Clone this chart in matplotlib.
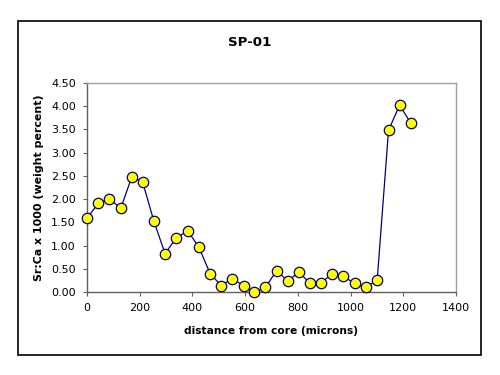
import matplotlib
matplotlib.use("Agg")
import matplotlib.pyplot as plt
from matplotlib.patches import Rectangle

plt.rcParams['font.family'] = ['DejaVu Sans']

# distance from core (microns) and Sr:Ca x 1000
distance = [0, 43, 85, 128, 170, 211, 253, 296, 338, 382, 425, 467, 509, 551, 594,
            635, 677, 719, 762, 804, 846, 887, 930, 972, 1015, 1057, 1101, 1144, 1186, 1229]
srca = [1.59, 1.91, 2.01, 1.80, 2.48, 2.37, 1.54, 0.83, 1.16, 1.32, 0.96, 0.40, 0.14, 0.29, 0.14,
        0.00, 0.10, 0.46, 0.24, 0.43, 0.19, 0.19, 0.40, 0.34, 0.19, 0.10, 0.26, 3.48, 4.02, 3.63]

xticks = [0, 200, 400, 600, 800, 1000, 1200, 1400]
yticks = [0, 0.5, 1.0, 1.5, 2.0, 2.5, 3.0, 3.5, 4.0, 4.5]

fig = plt.figure(figsize=(5, 3.75), dpi=100)
fig.patches.append(Rectangle((18/500, 1-355/375), 463/500, 334/375, transform=fig.transFigure,
                             fill=False, edgecolor='black', linewidth=1.2))

ax = fig.add_axes([0.174, 0.221, 0.738, 0.558])
ax.plot(distance, srca, color='#000080', linewidth=0.9, marker='o', markersize=7.5,
        markerfacecolor='#ffff00', markeredgecolor='#000080', markeredgewidth=0.9,
        clip_on=False, zorder=3)

ax.set_xlim(0, 1400)
ax.set_ylim(0, 4.5)
ax.set_xticks(xticks)
ax.set_yticks(yticks)
ax.set_yticklabels(['%.2f' % v for v in yticks])
for s in ax.spines.values():
    s.set_color('#a0a0a0')
    s.set_linewidth(1.0)
ax.spines['left'].set_color('#606060')
ax.spines['bottom'].set_color('#606060')
ax.tick_params(direction='out', length=3, color='#606060', labelsize=8, pad=5)

fig.text(0.5, 0.888, 'SP-01', ha='center', va='center', fontsize=9.6, fontweight='bold')
ax.set_xlabel('distance from core (microns)', fontsize=7.7, fontweight='bold', labelpad=9)
ax.set_ylabel('Sr:Ca x 1000 (weight percent)', fontsize=7.9, fontweight='bold', labelpad=5)

fig.savefig('out.png', dpi=100)
